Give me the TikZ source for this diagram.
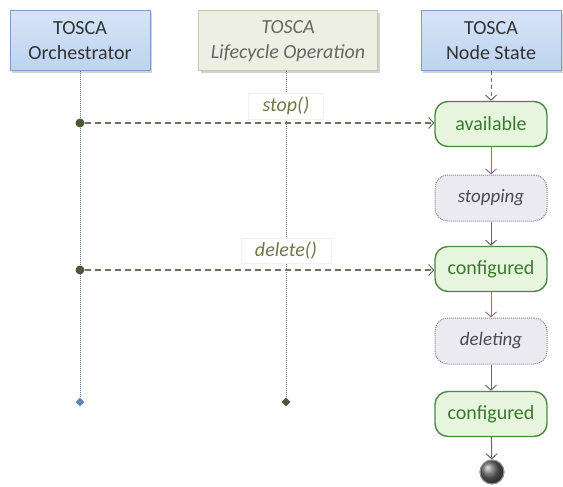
\documentclass[tikz,border=0pt]{standalone}
\usepackage{fontspec}
\setmainfont{Carlito}
\usetikzlibrary{arrows.meta,shadows,shapes.geometric}
\definecolor{hdrfill}{HTML}{BDD3F0}
\definecolor{hdrfilltop}{HTML}{D6E4F7}
\definecolor{hdrdraw}{HTML}{7E9CC6}
\definecolor{opfill}{HTML}{EDEFE2}
\definecolor{opdraw}{HTML}{C6C8B2}
\definecolor{grfill}{HTML}{E7F5DF}
\definecolor{grdraw}{HTML}{4E8744}
\definecolor{grtext}{HTML}{3A7A2C}
\definecolor{trfill}{HTML}{ECEAF1}
\definecolor{trdraw}{HTML}{8C7F98}
\definecolor{trtext}{HTML}{4A4A55}
\definecolor{msgcol}{HTML}{6C7160}
\definecolor{dotcol}{HTML}{4A573B}
\definecolor{lblcol}{HTML}{6D7848}
\definecolor{purp}{HTML}{8C6DB3}
\definecolor{trans}{HTML}{6A6A5E}
\definecolor{lifeblue}{HTML}{5B6E8C}
\definecolor{diablue}{HTML}{5D88B8}
\begin{document}
\begin{tikzpicture}[x=1pt,y=-1pt,
  every node/.style={font=\fontsize{20}{25}\selectfont},
  hdr/.style={draw=hdrdraw,line width=1pt,top color=hdrfilltop,bottom color=hdrfill,
    minimum width=140pt,minimum height=60pt,align=center,text=black!80,
    drop shadow={shadow xshift=2pt,shadow yshift=-2pt,opacity=0.35}},
  ophdr/.style={draw=opdraw,line width=1pt,fill=opfill,minimum width=179pt,minimum height=60pt,
    align=center,text=black!60,font=\fontsize{20}{25}\selectfont\itshape,
    drop shadow={shadow xshift=2pt,shadow yshift=-2pt,opacity=0.35}},
  grstate/.style={draw=grdraw,line width=1.4pt,fill=grfill,rounded corners=13pt,
    minimum width=112pt,minimum height=45pt,text=grtext},
  trstate/.style={draw=trdraw,line width=1pt,densely dotted,fill=trfill,rounded corners=13pt,
    minimum width=112pt,minimum height=46pt,text=trtext,font=\fontsize{19}{24}\selectfont\itshape},
  lifeline/.style={densely dotted,line width=1pt},
  msg/.style={dashed,dash pattern=on 6pt off 4pt,line width=1.3pt,draw=msgcol,
    -{Straight Barb[length=5pt,width=11pt,line width=1pt]}},
  lbl/.style={fill=white,draw=black!6,text=lblcol,font=\fontsize{20}{24}\selectfont\itshape,
    inner xsep=14pt,inner ysep=4pt},
  trarrow/.style={line width=1pt,-{Straight Barb[length=5pt,width=11pt,line width=1pt]}},
  msgdot/.style={circle,fill=dotcol,inner sep=0pt,minimum size=9pt},
  enddia/.style={diamond,inner sep=0pt,minimum size=9pt}
]
\useasboundingbox (0,0) rectangle (563,487);

% headers
\node[hdr] (orch) at (80,41) {TOSCA\\Orchestrator};
\node[ophdr] (lop) at (288,41) {TOSCA\\Lifecycle Operation};
\node[hdr] (nst) at (491,41) {TOSCA\\Node State};

% end points of lifelines
\node[enddia,fill=diablue] (orchend) at (80,402) {};
\node[enddia,fill=dotcol] (lopend) at (286,402) {};

\draw[lifeline,draw=lifeblue] (orch.south -| orchend) -- (orchend);
\draw[lifeline,draw=black!55] (lop.south -| lopend) -- (lopend);

% states
\node[grstate] (avail) at (491,124) {available};
\node[trstate] (stopping) at (491,198) {stopping};
\node[grstate] (conf1) at (491,269) {configured};
\node[trstate] (deleting) at (491,341) {deleting};
\node[grstate] (conf2) at (491,414) {configured};
\node[circle,draw=black!45,line width=1.2pt,inner sep=0pt,minimum size=24pt,
  shading=ball,ball color=black!60] (final) at (492,472) {};

% transitions
\draw[trarrow,dashed,dash pattern=on 4pt off 3pt,draw=trans] (nst) -- (avail);
\draw[trarrow,draw=purp] (avail) -- (stopping);
\draw[trarrow,draw=trans] (stopping) -- (conf1);
\draw[trarrow,draw=purp] (conf1) -- (deleting);
\draw[trarrow,draw=trans] (deleting) -- (conf2);
\draw[trarrow,draw=trans] (conf2) -- (final);

% messages
\node[msgdot] (d1) at (80,123) {};
\node[msgdot] (d2) at (80,270) {};
\draw[msg] (d1) -- (avail.west |- d1);
\draw[msg] (d2) -- (conf1.west |- d2);
\node[lbl] (l1) at (286,106) {stop()};
\node[lbl] (l2) at (286,251) {delete()};
\end{tikzpicture}
\end{document}
